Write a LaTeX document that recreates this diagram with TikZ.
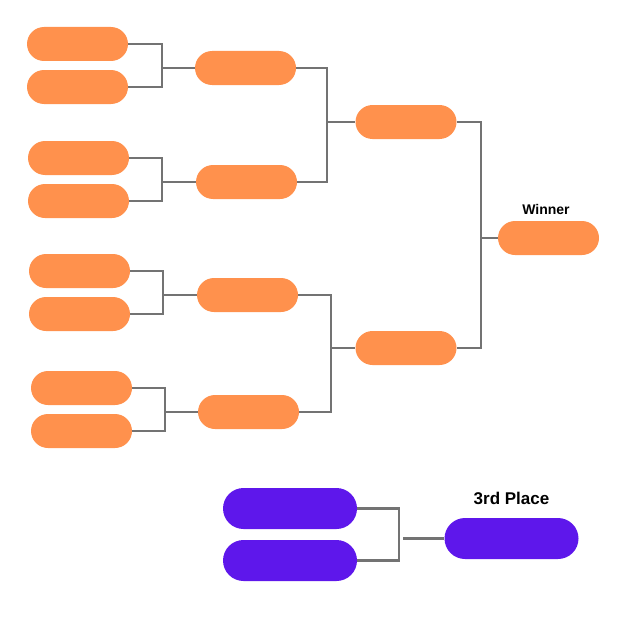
\documentclass[tikz,border=0pt]{standalone}
\usepackage{fontspec}
\setmainfont{Liberation Sans}
\definecolor{orng}{HTML}{FF914D}
\definecolor{purp}{HTML}{5E17EB}
\definecolor{conng}{HTML}{737373}
\begin{document}
\begin{tikzpicture}[x=1pt,y=-1pt,
  obox/.style={fill=orng,draw=none,rounded corners=17pt,minimum width=101pt,minimum height=34pt,inner sep=0pt},
  pbox/.style={fill=purp,draw=none,rounded corners=20.5pt,minimum width=134pt,minimum height=41pt,inner sep=0pt},
  conn/.style={draw=conng,line width=2.4pt},
  lbl/.style={font=\bfseries,text=black,inner sep=0pt}]
\useasboundingbox (0,0) rectangle (624,626);
% round 1
\node[obox] (a1) at (77.5,44) {};
\node[obox] (a2) at (77.5,87) {};
\node[obox] (a3) at (78.5,158) {};
\node[obox] (a4) at (78.5,201) {};
\node[obox] (a5) at (79.5,271) {};
\node[obox] (a6) at (79.5,314) {};
\node[obox] (a7) at (81.5,388) {};
\node[obox] (a8) at (81.5,431) {};
% round 2
\node[obox] (b1) at (245.5,68) {};
\node[obox] (b2) at (246.5,182) {};
\node[obox] (b3) at (247.5,295) {};
\node[obox] (b4) at (248.5,412) {};
% round 3
\node[obox] (c1) at (406,122) {};
\node[obox] (c2) at (406,348) {};
% winner
\node[obox] (w) at (548.5,238) {};
\node[lbl,font=\fontsize{14}{16}\selectfont\bfseries] (wl) at (546,209) {Winner};
% third place
\node[pbox] (p1) at (290,508.5) {};
\node[pbox] (p2) at (290,560.5) {};
\node[pbox] (p3) at (511.5,538.5) {};
\node[lbl,font=\fontsize{17}{20}\selectfont\bfseries] (pl) at (511.5,498) {3rd Place};
% junctions
\coordinate (j1) at (162,68);
\coordinate (j2) at (162,182);
\coordinate (j3) at (163,295);
\coordinate (j4) at (165,412);
\coordinate (k1) at (327,122);
\coordinate (k2) at (331,348);
\coordinate (f1) at (481,238);
\coordinate (t1) at (399,538.5);
\coordinate (t2) at (403,538.5);
% connectors
\draw[conn] (a1.east) -| (j1) |- (a2.east);
\draw[conn] (j1) -- (j1 -| b1.west);
\draw[conn] (a3.east) -| (j2) |- (a4.east);
\draw[conn] (j2) -- (j2 -| b2.west);
\draw[conn] (a5.east) -| (j3) |- (a6.east);
\draw[conn] (j3) -- (j3 -| b3.west);
\draw[conn] (a7.east) -| (j4) |- (a8.east);
\draw[conn] (j4) -- (j4 -| b4.west);
\draw[conn] (b1.east) -| (k1) |- (b2.east);
\draw[conn] (k1) -- (k1 -| c1.west);
\draw[conn] (b3.east) -| (k2) |- (b4.east);
\draw[conn] (k2) -- (k2 -| c2.west);
\draw[conn] (c1.east) -| (f1) |- (c2.east);
\draw[conn] (f1) -- (f1 -| w.west);
\draw[conn] (p1.east) -| (t1) |- (p2.east);
\draw[conn] (t2) -- (t2 -| p3.west);
\end{tikzpicture}
\end{document}
